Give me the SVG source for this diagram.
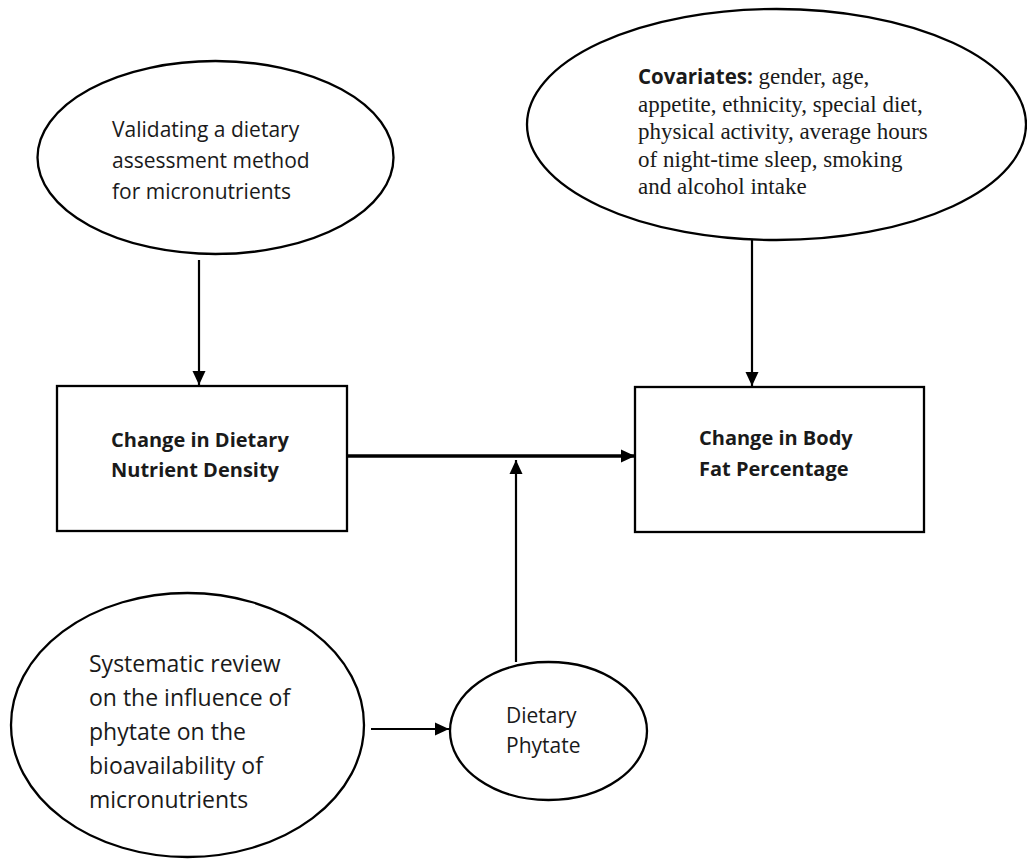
<svg xmlns="http://www.w3.org/2000/svg" width="1027" height="859" viewBox="0 0 1027 859">
<style>
  .shape { fill: #ffffff; stroke: #000000; stroke-width: 2.3; }
  .conn { fill: none; stroke: #000000; stroke-width: 2.2; }
  .thick { stroke-width: 3.6; }
  .sans { font-family: "Open Sans", "Noto Sans", "Liberation Sans", sans-serif; fill: #1a1a1a; }
  .bold { font-weight: bold; }
  .serif { font-family: "Liberation Serif", "DejaVu Serif", serif; fill: #1a1a1a; }
</style>
<defs>
  <marker id="arrow" markerUnits="userSpaceOnUse" markerWidth="14" markerHeight="14" refX="14" refY="7" orient="auto">
    <path d="M0,0.5 L14,7 L0,13.5 Z" fill="#000000"/>
  </marker>
</defs>
<rect width="1027" height="859" fill="#ffffff"/>

<g id="connectors">
  <line class="conn" x1="199" y1="260" x2="199" y2="385" marker-end="url(#arrow)"/>
  <line class="conn" x1="752" y1="240" x2="752" y2="386" marker-end="url(#arrow)"/>
  <line class="conn thick" x1="348" y1="456" x2="635" y2="456" marker-end="url(#arrow)"/>
  <line class="conn" x1="516" y1="662" x2="516" y2="460" marker-end="url(#arrow)"/>
  <line class="conn" x1="371" y1="729" x2="449" y2="729" marker-end="url(#arrow)"/>
</g>

<g id="node-validating">
  <ellipse class="shape" cx="215.5" cy="157.5" rx="178" ry="96.5"/>
  <text class="sans" font-size="21">
    <tspan x="112" y="137">Validating a dietary</tspan>
    <tspan x="112" y="168">assessment method</tspan>
    <tspan x="112" y="199">for micronutrients</tspan>
  </text>
</g>

<g id="node-covariates">
  <ellipse class="shape" cx="776.5" cy="124.5" rx="249.5" ry="115.5"/>
  <text class="serif" font-size="23">
    <tspan x="638" y="84"><tspan class="sans bold" font-size="20.5">Covariates:</tspan> gender, age,</tspan>
    <tspan x="638" y="112">appetite, ethnicity, special diet,</tspan>
    <tspan x="638" y="139">physical activity, average hours</tspan>
    <tspan x="638" y="167">of night-time sleep, smoking</tspan>
    <tspan x="638" y="194">and alcohol intake</tspan>
  </text>
</g>

<g id="node-nutrient-density">
  <rect class="shape" x="57" y="386" width="290" height="145"/>
  <text class="sans bold" font-size="20">
    <tspan x="111" y="447">Change in Dietary</tspan>
    <tspan x="111" y="477">Nutrient Density</tspan>
  </text>
</g>

<g id="node-body-fat">
  <rect class="shape" x="635" y="387" width="289" height="145"/>
  <text class="sans bold" font-size="20">
    <tspan x="699" y="445">Change in Body</tspan>
    <tspan x="699" y="476">Fat Percentage</tspan>
  </text>
</g>

<g id="node-systematic-review">
  <ellipse class="shape" cx="187.5" cy="725" rx="176.5" ry="132"/>
  <text class="sans" font-size="23">
    <tspan x="89" y="672">Systematic review</tspan>
    <tspan x="89" y="706">on the influence of</tspan>
    <tspan x="89" y="740">phytate on the</tspan>
    <tspan x="89" y="774">bioavailability of</tspan>
    <tspan x="89" y="808">micronutrients</tspan>
  </text>
</g>

<g id="node-phytate">
  <ellipse class="shape" cx="548.5" cy="731" rx="98.5" ry="69"/>
  <text class="sans" font-size="21">
    <tspan x="506" y="723">Dietary</tspan>
    <tspan x="506" y="753">Phytate</tspan>
  </text>
</g>
</svg>
